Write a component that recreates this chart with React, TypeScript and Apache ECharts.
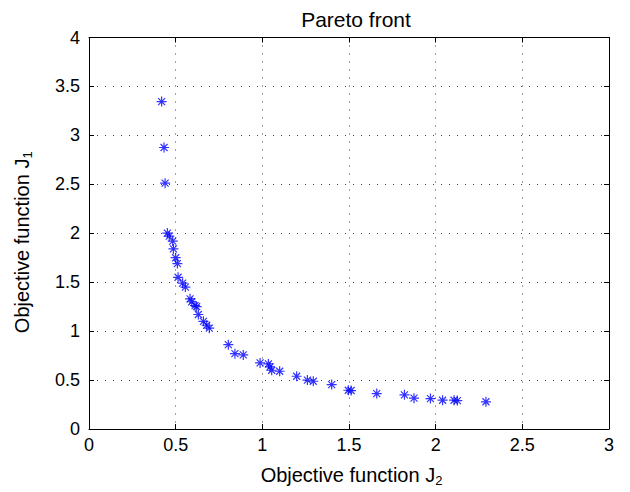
import React, { useEffect, useRef } from "react";
import * as echarts from "echarts";

const j2 = [0.419, 0.433, 0.439, 0.452, 0.463, 0.483, 0.487, 0.5, 0.51, 0.514, 0.54, 0.556, 0.583, 0.593, 0.612, 0.621, 0.631, 0.66, 0.679, 0.694, 0.804, 0.842, 0.89, 0.987, 1.035, 1.044, 1.054, 1.1, 1.198, 1.26, 1.294, 1.4, 1.496, 1.512, 1.66, 1.82, 1.875, 1.97, 2.04, 2.106, 2.125, 2.29];
const j1 = [3.345, 2.876, 2.512, 2.002, 1.97, 1.92, 1.84, 1.75, 1.69, 1.55, 1.49, 1.45, 1.33, 1.3, 1.26, 1.25, 1.17, 1.1, 1.06, 1.03, 0.862, 0.77, 0.757, 0.675, 0.665, 0.635, 0.6, 0.59, 0.539, 0.5, 0.488, 0.454, 0.396, 0.393, 0.362, 0.349, 0.315, 0.311, 0.294, 0.294, 0.29, 0.278];

const titleText = "Pareto front";
const xName = "Objective function J";
const yName = "Objective function J";

const FONT = "'Liberation Sans', Arial, Helvetica, sans-serif";

export default function App() {
  const ref = useRef<HTMLDivElement>(null);
  useEffect(() => {
    if (!ref.current) return;
    const chart = echarts.init(ref.current, null, { renderer: "svg" });
    const gridLine = { show: true, lineStyle: { color: "#444", width: 1, type: [1, 7] as any } };
    const tick = { show: true, inside: true, length: 5, lineStyle: { color: "#000" } };
    const line = { show: true, onZero: false, lineStyle: { color: "#000", width: 1 } };
    const xRich = {
      a: { fontSize: 20, fontFamily: FONT, color: "#000", padding: [0, 0, 0, 5] },
      s: { fontSize: 13, fontFamily: FONT, color: "#000", padding: [11, 0, 0, 0] },
    };
    const yRich = {
      a: { fontSize: 20, fontFamily: FONT, color: "#000" },
      s: { fontSize: 13, fontFamily: FONT, color: "#000", padding: [11, 18, 0, 0] },
    };
    chart.setOption({
      animation: false,
      backgroundColor: "#fff",
      title: {
        text: titleText,
        left: 351,
        textAlign: "center",
        top: 4,
        textStyle: { fontSize: 21, fontWeight: "normal", fontFamily: FONT, color: "#000" },
      },
      grid: { left: 89, right: 21, top: 37.5, bottom: 62.5 },
      xAxis: [
        {
          type: "value", min: 0, max: 3, interval: 0.5,
          axisLine: line, axisTick: tick, splitLine: gridLine,
          axisLabel: { fontSize: 18, fontFamily: FONT, color: "#000", margin: 7 },
          name: "{a|" + xName + "}{s|2}", nameLocation: "middle", nameGap: 34,
          nameTextStyle: { rich: xRich },
        },
        {
          type: "value", position: "top", min: 0, max: 3, interval: 0.5,
          axisLine: line, axisTick: tick, splitLine: { show: false }, axisLabel: { show: false },
        },
      ],
      yAxis: [
        {
          type: "value", min: 0, max: 4, interval: 0.5,
          axisLine: line, axisTick: tick, splitLine: gridLine,
          axisLabel: { fontSize: 18, fontFamily: FONT, color: "#000", margin: 9 },
          name: "{a|" + yName + "}{s|1}", nameLocation: "middle", nameGap: 55,
          nameTextStyle: { rich: yRich },
        },
        {
          type: "value", position: "right", min: 0, max: 4, interval: 0.5,
          axisLine: line, axisTick: tick, splitLine: { show: false }, axisLabel: { show: false },
        },
      ],
      series: [
        {
          type: "scatter",
          xAxisIndex: 0,
          yAxisIndex: 0,
          data: j2.map((x, i) => [x, j1[i]]),
          symbol: "path://M5,0L5,10M0,5L10,5M1.5,1.5L8.5,8.5M1.5,8.5L8.5,1.5",
          symbolSize: 10,
          itemStyle: { color: "rgba(0,0,0,0)", borderColor: "#0000ff", borderWidth: 1.2 },
        },
      ],
    });
    return () => chart.dispose();
  }, []);
  return (
    <div
      ref={ref}
      style={{ position: "fixed", left: 0, top: 0, width: 630, height: 492, background: "#fff" }}
    />
  );
}
